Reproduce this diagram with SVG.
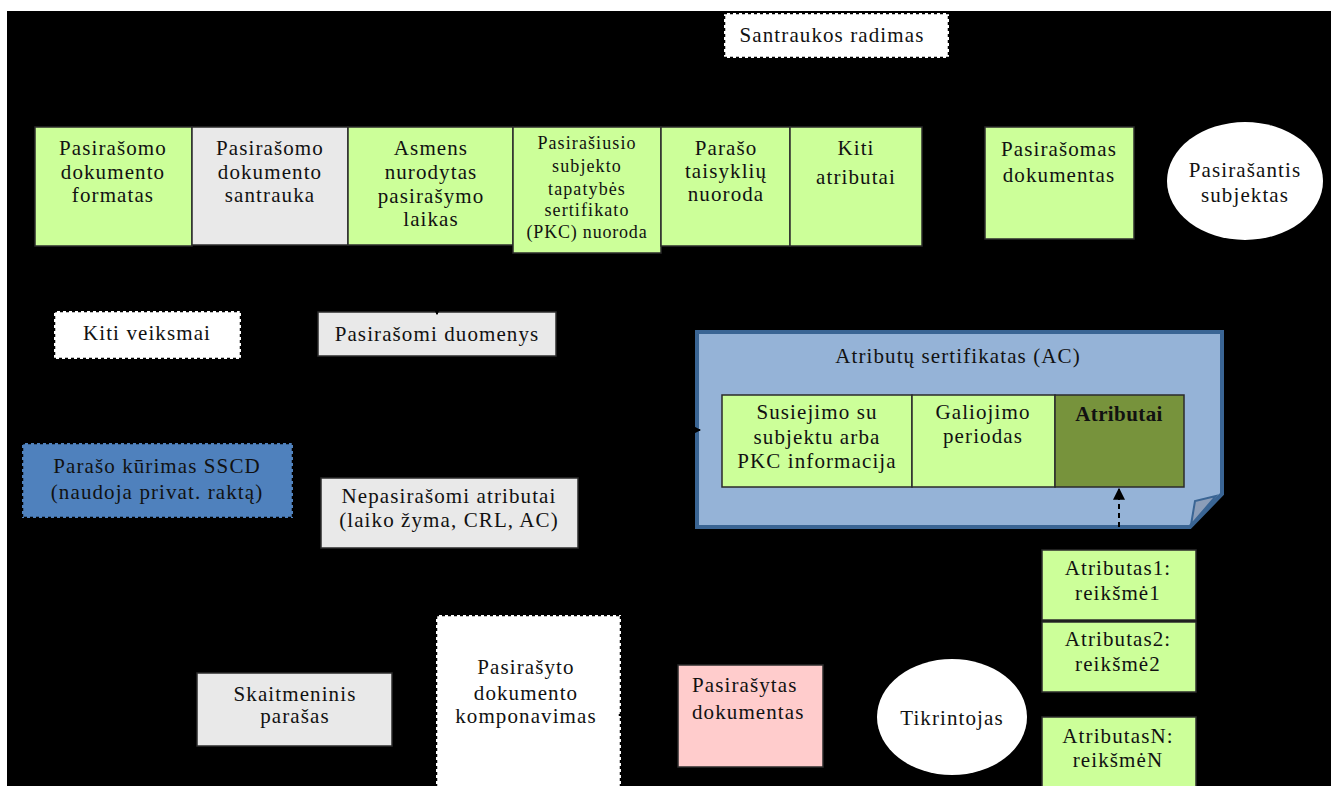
<svg xmlns="http://www.w3.org/2000/svg" width="1331" height="786" viewBox="0 0 1331 786">
  <style>
    text { font-family: "Liberation Serif", "Times New Roman", serif; font-size: 21px; letter-spacing: 1.1px; fill: #111; text-anchor: middle; }
    .small { font-size: 18px; }
    .bold { font-weight: bold; letter-spacing: 0.4px; }
    .left { text-anchor: start; }
    .box { stroke: #2b2b2b; stroke-width: 1.5; }
    .green { fill: #ccff99; }
    .gray { fill: #e9e9e9; }
    .pink { fill: #ffcccc; }
    .dash { fill: #ffffff; stroke: #000; stroke-width: 2.5; stroke-dasharray: 3 3; }
    .blue { fill: #4f81bd; stroke: #000; stroke-width: 2.5; stroke-dasharray: 3 3; }
    .flow { stroke: #000; stroke-width: 2; fill: none; marker-end: url(#arrow); }
  </style>
  <defs>
    <marker id="arrow" viewBox="0 0 10 10" refX="9" refY="5" markerWidth="6" markerHeight="6" orient="auto">
      <path d="M0,0 L10,5 L0,10 Z" fill="#000"/>
    </marker>
  </defs>

  <!-- canvas -->
  <rect x="0" y="0" width="1331" height="786" fill="#ffffff"/>
  <rect x="7" y="11" width="1324" height="775" fill="#000000"/>

  <!-- top row: signed attributes -->
  <g id="n-formatas">
    <rect class="box green" x="35" y="127" width="157" height="119"/>
    <text x="113" y="155">Pasirašomo</text>
    <text x="113" y="179">dokumento</text>
    <text x="113" y="202">formatas</text>
  </g>
  <g id="n-santrauka">
    <rect class="box gray" x="192" y="127" width="156" height="118"/>
    <text x="270" y="155">Pasirašomo</text>
    <text x="270" y="179">dokumento</text>
    <text x="270" y="202">santrauka</text>
  </g>
  <g id="n-laikas">
    <rect class="box green" x="348" y="127" width="165" height="118"/>
    <text x="431" y="155">Asmens</text>
    <text x="431" y="179">nurodytas</text>
    <text x="431" y="203">pasirašymo</text>
    <text x="431" y="226">laikas</text>
  </g>
  <g id="n-pkc">
    <rect class="box green" x="513" y="127" width="148" height="126"/>
    <text class="small" x="587" y="149">Pasirašiusio</text>
    <text class="small" x="587" y="172">subjekto</text>
    <text class="small" x="587" y="195">tapatybės</text>
    <text class="small" x="587" y="216">sertifikato</text>
    <text class="small" x="587" y="238" style="letter-spacing:0.8px">(PKC) nuoroda</text>
  </g>
  <g id="n-taisykles">
    <rect class="box green" x="661" y="127" width="129" height="119"/>
    <text x="726" y="155">Parašo</text>
    <text x="726" y="178">taisyklių</text>
    <text x="726" y="201">nuoroda</text>
  </g>
  <g id="n-kiti-atributai">
    <rect class="box green" x="790" y="127" width="132" height="119"/>
    <text x="856" y="155">Kiti</text>
    <text x="856" y="184">atributai</text>
  </g>
  <g id="n-pasirasomas">
    <rect class="box green" x="985" y="127" width="149" height="112"/>
    <text x="1059" y="156">Pasirašomas</text>
    <text x="1059" y="182">dokumentas</text>
  </g>
  <g id="n-subjektas">
    <ellipse cx="1245" cy="181" rx="78" ry="59" fill="#ffffff"/>
    <text x="1245" y="177">Pasirašantis</text>
    <text x="1245" y="202">subjektas</text>
  </g>

  <!-- process steps -->
  <g id="n-santraukos-radimas">
    <rect class="dash" x="724" y="13" width="225" height="45"/>
    <text x="832" y="42">Santraukos radimas</text>
  </g>
  <g id="n-kiti-veiksmai">
    <rect class="dash" x="54" y="311" width="187" height="48"/>
    <text x="147" y="340">Kiti veiksmai</text>
  </g>
  <g id="n-duomenys">
    <rect class="box gray" x="318" y="312" width="238" height="44"/>
    <text x="437" y="341">Pasirašomi duomenys</text>
  </g>
  <g id="n-sscd">
    <rect class="blue" x="22" y="443" width="271" height="75"/>
    <text x="157" y="473">Parašo kūrimas SSCD</text>
    <text x="157" y="499">(naudoja privat. raktą)</text>
  </g>
  <g id="n-nepasirasomi">
    <rect class="box gray" x="321" y="478" width="257" height="70"/>
    <text x="449" y="503">Nepasirašomi atributai</text>
    <text x="449" y="527">(laiko žyma, CRL, AC)</text>
  </g>

  <!-- attribute certificate -->
  <g id="n-ac">
    <path d="M697,332 H1222 V494 L1190,527 H697 Z" fill="#95b3d7" stroke="#3a6594" stroke-width="4"/>
    <path d="M1191,525 L1195,501 L1216,496 Z" fill="#8b9db8" stroke="#3a6594" stroke-width="2"/>
    <text x="958" y="363">Atributų sertifikatas (AC)</text>
    <g id="n-ac-susiejimas">
      <rect class="box green" x="722" y="395" width="190" height="92"/>
      <text x="817" y="419">Susiejimo su</text>
      <text x="817" y="444">subjektu arba</text>
      <text x="817" y="468">PKC informacija</text>
    </g>
    <g id="n-ac-galiojimas">
      <rect class="box green" x="912" y="395" width="143" height="92"/>
      <text x="983" y="419">Galiojimo</text>
      <text x="983" y="443">periodas</text>
    </g>
    <g id="n-ac-atributai">
      <rect class="box" x="1055" y="395" width="129" height="92" fill="#77933c"/>
      <text class="bold" x="1119" y="421">Atributai</text>
    </g>
  </g>

  <!-- attribute values -->
  <g id="n-atributas1">
    <rect class="box green" x="1042" y="550" width="154" height="70"/>
    <text x="1118" y="575">Atributas1:</text>
    <text x="1118" y="600">reikšmė1</text>
  </g>
  <g id="n-atributas2">
    <rect class="box green" x="1042" y="622" width="154" height="70"/>
    <text x="1118" y="646">Atributas2:</text>
    <text x="1118" y="671">reikšmė2</text>
  </g>
  <g id="n-atributasN">
    <rect class="box green" x="1042" y="717" width="154" height="75"/>
    <text x="1118" y="743">AtributasN:</text>
    <text x="1118" y="767">reikšmėN</text>
  </g>

  <!-- bottom row -->
  <g id="n-skaitmeninis">
    <rect class="box gray" x="197" y="673" width="195" height="73"/>
    <text x="295" y="701">Skaitmeninis</text>
    <text x="295" y="723">parašas</text>
  </g>
  <g id="n-komponavimas">
    <rect class="dash" x="436" y="615" width="185" height="180"/>
    <text x="526" y="674">Pasirašyto</text>
    <text x="526" y="700">dokumento</text>
    <text x="526" y="723">komponavimas</text>
  </g>
  <g id="n-pasirasytas">
    <rect class="box pink" x="678" y="665" width="145" height="102"/>
    <text class="left" x="692" y="692">Pasirašytas</text>
    <text class="left" x="692" y="719">dokumentas</text>
  </g>
  <g id="n-tikrintojas">
    <ellipse cx="952" cy="717" rx="75" ry="58" fill="#ffffff"/>
    <text x="952" y="725">Tikrintojas</text>
  </g>

  <!-- connectors (black flow lines; only their tips show against the boxes) -->
  <g id="connectors">
    <line class="flow" x1="437" y1="292" x2="437" y2="314"/>
    <line class="flow" x1="672" y1="430" x2="700" y2="430"/>
    <line class="flow" x1="650" y1="715" x2="619" y2="715"/>
    <line x1="1119" y1="527" x2="1119" y2="489" stroke="#000" stroke-width="2" stroke-dasharray="5 4" marker-end="url(#arrow)"/>
  </g>
</svg>
